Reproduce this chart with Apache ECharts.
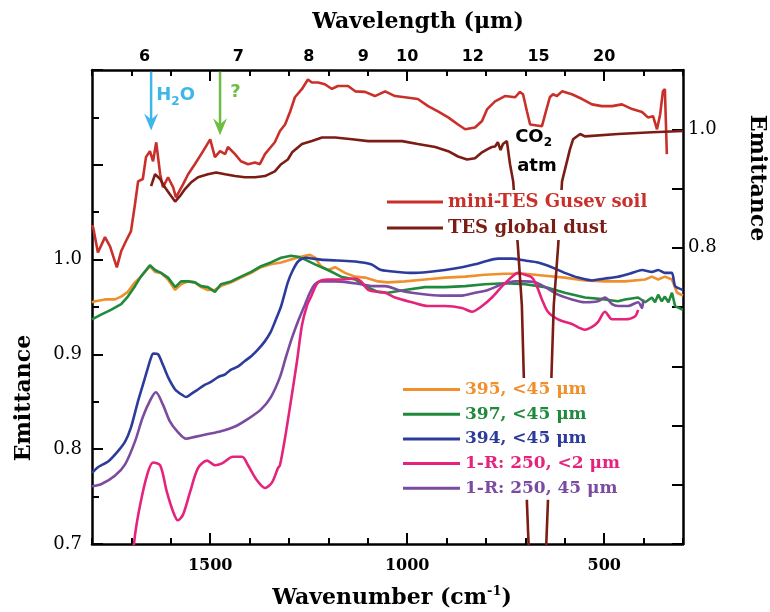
<!DOCTYPE html>
<html><head><meta charset="utf-8">
<script src="https://cdn.jsdelivr.net/npm/echarts@6/dist/echarts.min.js"></script>
<style>html,body{margin:0;padding:0;background:#fff}#c{width:770px;height:612px}</style>
</head><body><div id="c"></div>
<script>
// ---------- data (wavenumber cm-1, emittance) ----------
const gusev = [[1800,0.838],[1797,0.834],[1785,0.792],[1767,0.818],[1754,0.802],[1737,0.767],[1726,0.794],[1714,0.811],[1701,0.828],[1691,0.873],[1683,0.912],[1671,0.916],[1663,0.953],[1653,0.963],[1645,0.946],[1637,0.978],[1627,0.924],[1620,0.902],[1607,0.919],[1594,0.902],[1587,0.885],[1569,0.907],[1556,0.924],[1539,0.941],[1518,0.963],[1500,0.983],[1488,0.953],[1475,0.963],[1462,0.958],[1455,0.970],[1437,0.958],[1422,0.946],[1404,0.941],[1386,0.944],[1374,0.941],[1361,0.958],[1346,0.970],[1336,0.978],[1323,0.997],[1310,1.008],[1297,1.030],[1285,1.054],[1267,1.068],[1252,1.084],[1242,1.079],[1226,1.079],[1209,1.076],[1191,1.068],[1176,1.073],[1150,1.073],[1132,1.064],[1107,1.063],[1082,1.056],[1056,1.064],[1031,1.056],[1006,1.054],[973,1.051],[947,1.039],[922,1.030],[896,1.020],[871,1.008],[853,1.000],[828,1.003],[810,1.014],[797,1.034],[777,1.047],[752,1.056],[726,1.054],[714,1.063],[706,1.059],[696,1.030],[688,1.008],[683,1.005],[658,1.005],[650,1.025],[638,1.054],[630,1.059],[620,1.056],[607,1.064],[582,1.059],[556,1.051],[531,1.042],[506,1.039],[480,1.039],[455,1.042],[429,1.034],[404,1.029],[389,1.020],[376,1.022],[366,1.000],[358,1.025],[351,1.064],[346,1.068],[341,0.958]];
const dust = [[1650,0.904],[1640,0.924],[1627,0.916],[1615,0.902],[1602,0.890],[1589,0.878],[1577,0.887],[1564,0.899],[1549,0.910],[1531,0.919],[1506,0.924],[1485,0.927],[1462,0.924],[1437,0.921],[1412,0.919],[1386,0.919],[1361,0.921],[1336,0.929],[1320,0.941],[1303,0.949],[1292,0.961],[1267,0.975],[1242,0.980],[1216,0.986],[1183,0.986],[1140,0.983],[1099,0.980],[1056,0.980],[1013,0.980],[973,0.975],[929,0.970],[896,0.963],[871,0.954],[848,0.949],[828,0.951],[810,0.961],[797,0.966],[785,0.970],[777,0.971],[770,0.978],[763,0.965],[757,0.975],[747,0.980],[739,0.941],[731,0.912],[719,0.802],[709,0.703],[704,0.581],[696,0.368],[689,0.25],[668,0.12],[650,0.25],[643,0.368],[634,0.581],[628,0.703],[617,0.802],[607,0.912],[587,0.966],[579,0.983],[561,0.992],[549,0.988],[465,0.992],[379,0.995],[300,0.997]];
const s395 = [[1800,0.955],[1792,0.956],[1767,0.958],[1742,0.958],[1726,0.961],[1709,0.966],[1691,0.976],[1676,0.982],[1653,0.993],[1640,0.987],[1625,0.986],[1607,0.979],[1589,0.968],[1574,0.974],[1556,0.977],[1539,0.976],[1523,0.971],[1506,0.968],[1488,0.968],[1473,0.972],[1447,0.976],[1422,0.981],[1396,0.986],[1371,0.992],[1346,0.995],[1320,0.997],[1295,1.000],[1270,1.003],[1247,1.005],[1234,1.002],[1219,0.993],[1201,0.989],[1183,0.992],[1158,0.986],[1132,0.982],[1107,0.981],[1074,0.977],[1049,0.976],[1006,0.977],[955,0.979],[904,0.981],[853,0.982],[803,0.984],[752,0.985],[701,0.985],[650,0.983],[600,0.981],[549,0.978],[498,0.977],[447,0.977],[396,0.979],[379,0.982],[363,0.979],[346,0.982],[328,0.979],[315,0.965],[300,0.962]];
const s397 = [[1800,0.937],[1777,0.942],[1752,0.947],[1726,0.953],[1709,0.961],[1691,0.972],[1676,0.982],[1653,0.994],[1640,0.989],[1625,0.986],[1607,0.981],[1589,0.971],[1574,0.977],[1556,0.977],[1539,0.976],[1523,0.972],[1506,0.971],[1488,0.966],[1473,0.974],[1447,0.977],[1422,0.982],[1396,0.987],[1371,0.993],[1346,0.997],[1320,1.002],[1295,1.004],[1277,1.003],[1259,1.000],[1234,0.995],[1201,0.989],[1168,0.982],[1132,0.979],[1107,0.972],[1074,0.966],[1049,0.965],[1006,0.968],[955,0.971],[904,0.971],[853,0.972],[803,0.974],[752,0.975],[701,0.974],[650,0.971],[600,0.965],[549,0.960],[498,0.958],[465,0.956],[447,0.958],[414,0.960],[396,0.955],[379,0.960],[371,0.955],[363,0.963],[354,0.956],[346,0.961],[337,0.955],[328,0.965],[320,0.951],[300,0.947]];
const s394 = [[1800,0.775],[1785,0.781],[1759,0.787],[1734,0.798],[1716,0.808],[1701,0.823],[1683,0.851],[1665,0.876],[1653,0.893],[1645,0.901],[1632,0.900],[1620,0.889],[1607,0.876],[1589,0.863],[1574,0.858],[1561,0.855],[1549,0.858],[1531,0.863],[1513,0.868],[1498,0.871],[1480,0.876],[1462,0.879],[1447,0.884],[1430,0.887],[1412,0.893],[1396,0.898],[1379,0.905],[1361,0.914],[1346,0.924],[1336,0.934],[1320,0.951],[1303,0.976],[1290,0.989],[1277,0.998],[1259,1.002],[1219,1.000],[1176,0.999],[1132,0.998],[1092,0.995],[1066,0.989],[1023,0.987],[988,0.986],[947,0.987],[904,0.989],[861,0.992],[828,0.995],[803,0.998],[770,1.001],[734,1.001],[701,0.999],[668,0.997],[633,0.992],[600,0.986],[566,0.981],[531,0.978],[498,0.980],[465,0.982],[429,0.986],[404,0.989],[379,0.987],[363,0.989],[346,0.986],[328,0.986],[320,0.972],[300,0.968]];
const r250fine = [[1700,0.670],[1691,0.709],[1678,0.741],[1660,0.773],[1645,0.786],[1627,0.783],[1610,0.755],[1594,0.734],[1582,0.725],[1569,0.731],[1551,0.755],[1531,0.780],[1508,0.788],[1488,0.783],[1470,0.785],[1442,0.792],[1419,0.792],[1404,0.783],[1381,0.767],[1361,0.759],[1343,0.765],[1328,0.780],[1323,0.783],[1310,0.812],[1297,0.846],[1280,0.892],[1267,0.931],[1254,0.952],[1244,0.961],[1226,0.976],[1201,0.979],[1168,0.979],[1132,0.980],[1117,0.977],[1099,0.968],[1074,0.966],[1056,0.965],[1031,0.960],[988,0.955],[947,0.951],[904,0.951],[861,0.949],[836,0.945],[810,0.951],[785,0.960],[759,0.972],[734,0.982],[719,0.986],[701,0.984],[683,0.981],[671,0.972],[658,0.958],[643,0.945],[617,0.937],[582,0.932],[549,0.926],[531,0.929],[516,0.934],[498,0.945],[480,0.937],[447,0.937],[422,0.940],[414,0.947]];
const r250coarse = [[1800,0.761],[1777,0.763],[1742,0.772],[1716,0.784],[1691,0.808],[1671,0.834],[1653,0.851],[1638,0.860],[1620,0.847],[1602,0.829],[1582,0.818],[1561,0.811],[1539,0.813],[1506,0.816],[1473,0.819],[1437,0.824],[1404,0.832],[1371,0.842],[1346,0.855],[1323,0.876],[1308,0.897],[1292,0.918],[1277,0.935],[1259,0.953],[1247,0.965],[1234,0.974],[1219,0.977],[1183,0.977],[1150,0.976],[1117,0.974],[1082,0.972],[1056,0.972],[1023,0.968],[988,0.965],[947,0.963],[904,0.962],[861,0.962],[828,0.965],[795,0.968],[759,0.974],[726,0.977],[701,0.977],[676,0.976],[650,0.971],[617,0.963],[582,0.958],[549,0.955],[516,0.956],[498,0.960],[480,0.953],[465,0.951],[440,0.951],[414,0.955],[404,0.949],[401,0.958]];

// ---------- tick labels ----------
const bottomTickLabels = [1500, 1000, 500];          // cm-1
const topTickLabels = [6, 7, 8, 9, 10, 12, 15, 20];   // micrometres
const leftTickLabels = [0.7, 0.8, 0.9, 1.0];
const rightTickLabels = [0.8, 1.0];

const SERIF = 'DejaVu Serif', SANS = 'DejaVu Sans';
const C = {gusev:'#c9302a', dust:'#7c1c15', o:'#f0902c', g:'#1f8a3c', b:'#2d3c9a', p:'#e6237c', v:'#7b4b9f'};

const tickStyle = {color:'#000', width:2};
const lineAx = {show:true, onZero:false, lineStyle:{color:'#000', width:2.5}};

function ser(name, data, color, yIdx, smooth, z){
  return {name, type:'line', xAxisIndex:0, yAxisIndex:yIdx, data, symbol:'none', showSymbol:false,
    smooth: smooth || false, z: z || 2,
    lineStyle:{color, width:2.6}, itemStyle:{color}, emphasis:{disabled:true}};
}

const chart = echarts.init(document.getElementById('c'), null, {renderer:'canvas'});
const option = {
  animation:false,
  backgroundColor:'#fff',
  grid:{left:92, right:87, top:70, bottom:68, containLabel:false, outerBoundsMode:'none'},
  xAxis:[
    {type:'value', position:'bottom', min:300, max:1800, interval:100, inverse:true,
      axisLine:lineAx, axisTick:{show:true, inside:true, length:6, lineStyle:tickStyle},
      axisLabel:{customValues:bottomTickLabels, formatter:v => String(v), margin:14, color:'#000', fontFamily:SERIF, fontWeight:'bold', fontSize:16},
      splitLine:{show:false}},
    {type:'value', position:'bottom', min:300, max:1800, inverse:true,
      axisLine:{show:false}, axisTick:{show:true, inside:true, length:11, customValues:bottomTickLabels, lineStyle:tickStyle},
      axisLabel:{show:false}, splitLine:{show:false}},
    {type:'value', position:'top', min:300, max:1800, interval:100, inverse:true,
      axisLine:lineAx, axisTick:{show:true, inside:true, length:6, lineStyle:tickStyle},
      axisLabel:{customValues:topTickLabels.map(l => 10000 / l), formatter:v => String(Math.round(10000 / v)),
        margin:5, color:'#000', fontFamily:SANS, fontWeight:'bold', fontSize:16},
      splitLine:{show:false}},
    {type:'value', position:'top', min:300, max:1800, inverse:true,
      axisLine:{show:false}, axisTick:{show:true, inside:true, length:11, customValues:bottomTickLabels, lineStyle:tickStyle},
      axisLabel:{show:false}, splitLine:{show:false}}
  ],
  yAxis:[
    {type:'value', position:'left', min:0.7, max:1.2, interval:0.1,
      axisLine:lineAx, axisTick:{show:true, inside:true, length:11, lineStyle:tickStyle},
      minorTick:{show:true, splitNumber:2, length:7, lineStyle:tickStyle},
      axisLabel:{customValues:leftTickLabels, formatter:v => v.toFixed(1), margin:10, color:'#000', fontFamily:SERIF, fontSize:18},
      splitLine:{show:false}, minorSplitLine:{show:false}},
    {type:'value', position:'right', min:0.3, max:1.1, interval:0.1,
      axisLine:lineAx, axisTick:{show:true, inside:true, length:11, lineStyle:tickStyle},
      axisLabel:{customValues:rightTickLabels, formatter:v => v.toFixed(1), margin:5, color:'#000', fontFamily:SERIF, fontSize:18},
      splitLine:{show:false}}
  ],
  legend:[
    {orient:'vertical', left:382, top:190, icon:'rect', itemWidth:56, itemHeight:3, itemGap:8, padding:[3,6,3,5],
      backgroundColor:'#fff', selectedMode:false,
      textStyle:{fontFamily:SERIF, fontWeight:'bold', fontSize:18, lineHeight:18},
      data:[{name:'mini-TES Gusev soil', textStyle:{color:C.gusev}}, {name:'TES global dust', textStyle:{color:C.dust}}]},
    {orient:'vertical', left:398, top:378, icon:'rect', itemWidth:57, itemHeight:3, itemGap:7.7, padding:[3,6,3,5],
      backgroundColor:'#fff', selectedMode:false,
      textStyle:{fontFamily:SERIF, fontWeight:'bold', fontSize:17, lineHeight:17},
      data:[{name:'395, <45 μm', textStyle:{color:C.o}}, {name:'397, <45 μm', textStyle:{color:C.g}},
            {name:'394, <45 μm', textStyle:{color:C.b}}, {name:'1-R: 250, <2 μm', textStyle:{color:C.p}},
            {name:'1-R: 250, 45 μm', textStyle:{color:C.v}}]}
  ],
  series:[
    ser('mini-TES Gusev soil', gusev, C.gusev, 1, false, 3),
    ser('TES global dust', dust, C.dust, 1, false, 3),
    ser('395, <45 μm', s395, C.o, 0),
    ser('397, <45 μm', s397, C.g, 0),
    ser('1-R: 250, 45 μm', r250coarse, C.v, 0, 0.3),
    ser('1-R: 250, <2 μm', r250fine, C.p, 0, 0.3),
    ser('394, <45 μm', s394, C.b, 0, 0.2)
  ]
};
chart.setOption(option);

// ---------- annotations and titles ----------
function px(w, e){ return chart.convertToPixel({xAxisIndex:0, yAxisIndex:1}, [w, e]); }
const els = [];
function arrow(w, eTop, eTip, color){
  const a = px(w, eTop), b = px(w, eTip);
  els.push({type:'line', silent:true, z:20, shape:{x1:a[0], y1:a[1], x2:b[0], y2:b[1]-10}, style:{stroke:color, lineWidth:2.5}});
  els.push({type:'polygon', silent:true, z:20, shape:{points:[[b[0]-7,b[1]-17],[b[0],b[1]-11],[b[0]+7,b[1]-17],[b[0],b[1]]]}, style:{fill:color}});
}
function txt(x, y, text, font, fill, extra){
  const st = Object.assign({text, font, fill, align:'left', verticalAlign:'middle', textAlign:'left', textVerticalAlign:'middle'}, extra || {});
  return {type:'text', silent:true, z:20, x, y, style:st};
}
arrow(1650, 1.097, 0.998, '#3fb6ea');
arrow(1475, 1.097, 0.990, '#6dbd42');
let p = px(1637, 1.057);
els.push(txt(p[0], p[1], 'H{s|2}O', 'bold 18px "DejaVu Sans"', '#3fb6ea',
  {lineHeight:24, rich:{s:{fontSize:12, fontWeight:'bold', fontFamily:SANS, fill:'#3fb6ea', lineHeight:24, verticalAlign:'bottom'}}}));
p = px(1449, 1.063);
els.push(txt(p[0], p[1], '?', 'bold 18px "DejaVu Sans"', '#6dbd42'));
p = px(726, 0.987);
els.push(txt(p[0], p[1], 'CO{s|2}', 'bold 18px "DejaVu Sans"', '#000',
  {lineHeight:24, rich:{s:{fontSize:12, fontWeight:'bold', fontFamily:SANS, fill:'#000', lineHeight:24, verticalAlign:'bottom'}}}));
p = px(721, 0.937);
els.push(txt(p[0], p[1], 'atm', 'bold 18px "DejaVu Sans"', '#000'));

const titleFont = 'bold 22px "DejaVu Serif"';
els.push(txt(418, 22, 'Wavelength (μm)', titleFont, '#000', {align:'center', textAlign:'center'}));
els.push(txt(392, 598, 'Wavenumber (cm{u|-1})', titleFont, '#000',
  {align:'center', textAlign:'center', lineHeight:26, rich:{u:{fontSize:13, fontWeight:'bold', fontFamily:SERIF, fill:'#000', lineHeight:26, verticalAlign:'top'}}}));
els.push(Object.assign(txt(24, 398, 'Emittance', titleFont, '#000', {align:'center', textAlign:'center'}), {rotation:Math.PI/2}));
els.push(Object.assign(txt(757, 178, 'Emittance', titleFont, '#000', {align:'center', textAlign:'center'}), {rotation:-Math.PI/2}));

chart.setOption({graphic:{elements:els}});
</script></body></html>
